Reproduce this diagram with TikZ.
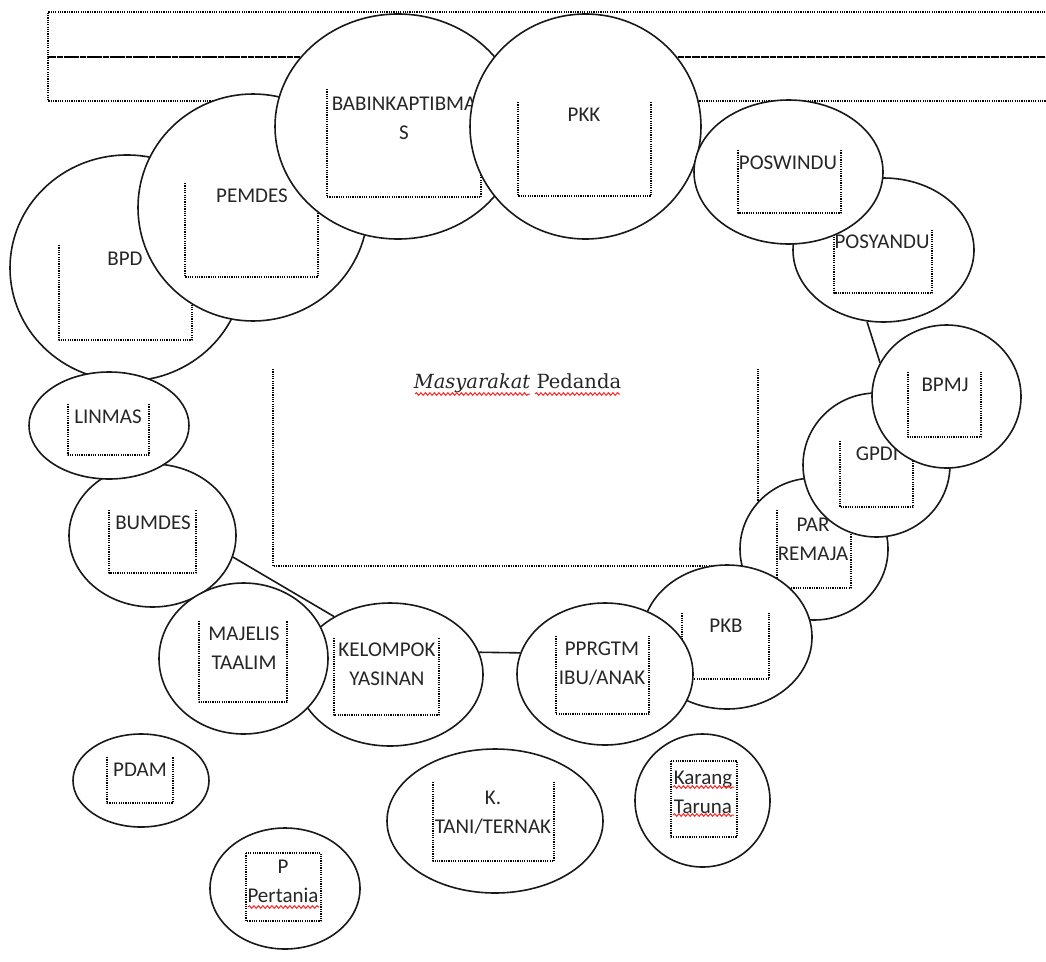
\documentclass[tikz,border=0pt]{standalone}
\usepackage{fontspec}
\setmainfont{Carlito}
\newfontfamily\slabfont{DejaVu Serif}
\usetikzlibrary{shapes.geometric,decorations.pathmorphing}

\begin{document}
\begin{tikzpicture}[x=1pt,y=-1pt,line join=round,
                    font=\fontsize{21}{29}\selectfont]
  \tikzstyle{org}=[ellipse,draw=black!90,fill=white,line width=1.6pt,inner sep=0pt]
  \tikzstyle{tbox}=[black,line width=1.3pt,dash pattern=on 1.2pt off 1.1pt]
  \tikzstyle{lbl}=[inner sep=0pt,align=center,text=black!85]
  \tikzstyle{typo}=[red!85,line width=1pt,decorate,
                    decoration={snake,amplitude=1.4pt,segment length=4.5pt}]
  \tikzstyle{conn}=[draw=black!90,line width=1.6pt]

  \useasboundingbox[fill=white] (0,0) rectangle (1046,961);

  % header frames, cut off at the right
  \draw[tbox] (1050,12) -- (48,12) -- (48,57) -- (1050,57);
  \draw[tbox] (1050,57) -- (48,57) -- (48,101) -- (1050,101);

  % centre block
  \draw[tbox] (273,369) |- (758,566) -- (758,369);
  \node[lbl,font=\slabfont\fontsize{19.5}{24}\selectfont,anchor=base] (judul) at (517.5,388)
    {\textit{Masyarakat} Pedanda};
  \draw[typo] (415,394) -- (530,394);
  \draw[typo] (535,394) -- (620,394);

  % top row
  \node[org,minimum width=234pt,minimum height=226pt] (bpd) at (127,268) {};
  \draw[tbox] (59,245) |- (192,340) -- (192,245);
  \node[lbl] (bpd-l) at (125,259) {BPD};

  \node[org,minimum width=230pt,minimum height=227pt] (pemdes) at (253,207.5) {};
  \draw[tbox] (185,183) |- (318,277) -- (318,183);
  \node[lbl] (pemdes-l) at (252,196) {PEMDES};

  \node[org,minimum width=246pt,minimum height=225pt] (babin) at (398,126.5) {};
  \draw[tbox] (327,89) |- (481,197) -- (481,89);
  \node[lbl] (babin-l) at (404,118) {BABINKAPTIBMA\\S};

  \node[org,minimum width=231pt,minimum height=225pt] (pkk) at (585.5,126.5) {};
  \draw[tbox] (518,102) |- (651,196) -- (651,102);
  \node[lbl] (pkk-l) at (584,115) {PKK};

  \node[org,minimum width=181pt,minimum height=144pt] (posyandu) at (883.5,250) {};
  \draw[tbox] (834,230) |- (932,293) -- (932,230);
  \node[lbl] (posyandu-l) at (882,242) {POSYANDU};

  \node[org,minimum width=189pt,minimum height=144pt] (poswindu) at (788.5,172) {};
  \draw[tbox] (738,150) |- (841,213) -- (841,150);
  \node[lbl] (poswindu-l) at (788,163) {POSWINDU};

  % right side
  \node[org,minimum width=148pt,minimum height=142pt] (par) at (814,549) {};
  \draw[tbox] (777,510) |- (851,588) -- (851,510);
  \node[lbl] (par-l) at (813,539.5) {PAR\\REMAJA};

  \node[org,minimum width=147pt,minimum height=144pt] (gpdi) at (876.5,465) {};
  \draw[tbox] (840,441) |- (913,507) -- (913,441);
  \node[lbl] (gpdi-l) at (877,454) {GPDI};

  \node[org,minimum width=149pt,minimum height=143pt] (bpmj) at (946.5,396.5) {};
  \draw[tbox] (908,372) |- (981,437) -- (981,372);
  \node[lbl] (bpmj-l) at (945,385) {BPMJ};

  % bottom row
  \node[org,minimum width=170pt,minimum height=144pt] (pkb) at (727,637) {};
  \draw[tbox] (682,613) |- (769,679) -- (769,613);
  \node[lbl] (pkb-l) at (726,626) {PKB};

  \node[org,minimum width=176pt,minimum height=142pt] (pprgtm) at (605,674) {};
  \draw[tbox] (556,636) |- (649,714) -- (649,636);
  \node[lbl] (pprgtm-l) at (602,663.5) {PPRGTM\\IBU/ANAK};

  \node[org,minimum width=186pt,minimum height=143pt] (kelompok) at (390,674.5) {};
  \draw[tbox] (334,638) |- (439,715) -- (439,638);
  \node[lbl] (kelompok-l) at (387,664) {KELOMPOK\\YASINAN};

  % left side
  \node[org,minimum width=167pt,minimum height=143pt] (bumdes) at (152.5,535.5) {};
  \draw[tbox] (109,510) |- (196,573) -- (196,510);
  \node[lbl] (bumdes-l) at (153,523) {BUMDES};

  \node[org,minimum width=160pt,minimum height=107pt] (linmas) at (109,425.5) {};
  \draw[tbox] (68,404) |- (149,455) -- (149,404);
  \node[lbl] (linmas-l) at (108,417) {LINMAS};

  \node[org,minimum width=169pt,minimum height=151pt] (majelis) at (243.5,658.5) {};
  \draw[tbox] (199,621) |- (287,702) -- (287,621);
  \node[lbl] (majelis-l) at (244,648.5) {MAJELIS\\TAALIM};

  % loose ones below
  \node[org,minimum width=136pt,minimum height=93pt] (pdam) at (141,780.5) {};
  \draw[tbox] (107,757) |- (173,803) -- (173,757);
  \node[lbl] (pdam-l) at (140,770) {PDAM};

  \node[org,minimum width=150pt,minimum height=121pt] (ptani) at (285,888.5) {};
  \draw[tbox] (246,853) rectangle (321,921);
  \node[lbl] (ptani-l) at (283,881.5) {P\\Pertania};
  \draw[typo] (248,907) -- (319,907);

  \node[org,minimum width=216pt,minimum height=144pt] (ktani) at (495,821) {};
  \draw[tbox] (433,782) |- (554,861) -- (554,782);
  \node[lbl] (ktani-l) at (493,812.5) {K.\\TANI/TERNAK};

  \node[org,minimum width=135pt,minimum height=133pt] (karang) at (702.5,800.5) {};
  \draw[tbox] (671,761) rectangle (737,837);
  \node[lbl] (karang-l) at (703,792) {Karang\\Taruna};
  \draw[typo] (673,787) -- (734,787);
  \draw[typo] (673,815) -- (734,815);

  \path (posyandu.-103) edge[conn] (bpmj.153)
        (bumdes.-15)    edge[conn] (kelompok.134)
        (kelompok.14)   edge[conn] (pprgtm.166);
\end{tikzpicture}
\end{document}
